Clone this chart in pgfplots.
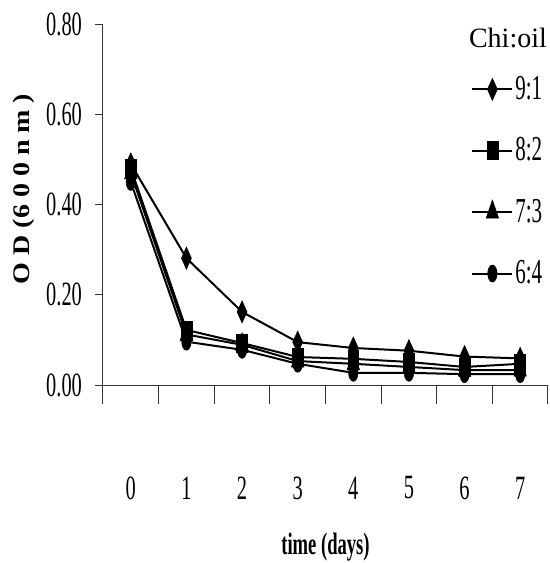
\documentclass[border=0pt]{standalone}
\usepackage{fontspec}
\setmainfont{Liberation Serif}[FakeStretch=0.6]
\newfontfamily\chifont{Liberation Serif}
\usepackage{graphicx}
\usepackage{pgfplots}
\pgfplotsset{compat=1.18}
\begin{document}
\begin{tikzpicture}
\begin{axis}[
  scale only axis,
  width=222.5pt, height=180.5pt,
  xmin=-0.5, xmax=7.5, ymin=0, ymax=0.8,
  enlargelimits=false,
  axis x line=bottom, axis y line=left,
  axis line style={-, line width=0.5pt, black!80},
  tick align=outside,
  major tick length=4pt,
  minor tick length=9.5pt,
  tick style={line width=0.5pt, black!80},
  ytick={0,0.2,0.4,0.6,0.8},
  /pgf/number format/assume math mode=true,
  yticklabel style={/pgf/number format/.cd, fixed, fixed zerofill, precision=2, /tikz/.cd, xshift=-3pt},
  tick label style={font=\fontsize{17}{20}\selectfont},
  xtick={0,1,2,3,4,5,6,7},
  major x tick style={draw=none},
  minor xtick={-0.5,0.5,...,7.5},
  xticklabel style={anchor=center, yshift=-47.5pt},
  xlabel={time (days)},
  xlabel style={font=\fontsize{15.5}{18}\selectfont\bfseries, at={(rel axis cs:0.5,0)}, anchor=center, yshift=-81pt},
  ylabel={\scalebox{1}[0.85]{O D (6 0 0 n m )}},
  ylabel style={font=\chifont\fontsize{14}{16}\selectfont\bfseries, at={(rel axis cs:0,0.543)}, anchor=center, yshift=39.5pt},
  clip=false,
  legend style={draw=none, fill=none, at={(rel axis cs:0.827,0.862)}, anchor=north west,
    font=\fontsize{17.5}{20}\selectfont, row sep=15.6pt, inner sep=0pt,
    nodes={inner sep=1pt}},
  legend cell align=left,
  legend image code/.code={\draw[mark repeat=2, mark phase=2, #1] plot coordinates {(0pt,0pt) (10pt,0pt) (20pt,0pt)};},
  every axis plot/.append style={black, line width=1pt},
]
\addplot[mark=diamond*, mark size=5.5pt, mark options={xscale=0.6, line width=0.3pt}] coordinates {
(0,0.49) (1,0.281) (2,0.162) (3,0.095) (4,0.082) (5,0.076) (6,0.063) (7,0.059)};
\addlegendentry{9:1}
\addplot[mark=square*, mark size=4.5pt, mark options={xscale=0.6, line width=0.3pt}] coordinates {
(0,0.48) (1,0.122) (2,0.093) (3,0.062) (4,0.058) (5,0.051) (6,0.040) (7,0.047)};
\addlegendentry{8:2}
\addplot[mark=triangle*, mark size=6pt, mark options={xscale=0.6, line width=0.3pt}] coordinates {
(0,0.47) (1,0.112) (2,0.089) (3,0.053) (4,0.047) (5,0.040) (6,0.033) (7,0.033)};
\addlegendentry{7:3}
\addplot[mark=*, mark size=4.25pt, mark options={xscale=0.55, line width=0.3pt}] coordinates {
(0,0.45) (1,0.096) (2,0.078) (3,0.047) (4,0.027) (5,0.027) (6,0.024) (7,0.024)};
\addlegendentry{6:4}
\node[font=\chifont\fontsize{14}{16}\selectfont, anchor=base] at (rel axis cs:0.910,0.934) {Chi:oil};
\end{axis}
\pgfresetboundingbox
\path[use as bounding box] ([shift={(-51.5pt,-89pt)}]current axis.south west) rectangle ([shift={(223.5pt,192.5pt)}]current axis.south west);
\end{tikzpicture}
\end{document}
